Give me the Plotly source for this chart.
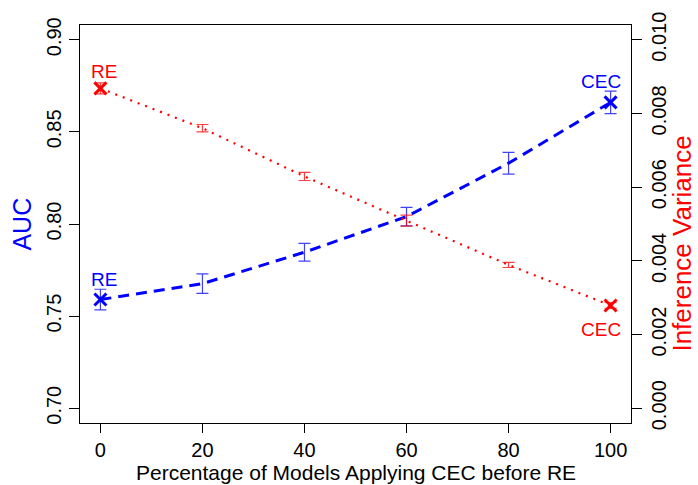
import plotly.graph_objects as go

# ---- data ----
pct = [0, 20, 40, 60, 80, 100]
auc = [0.759, 0.7676, 0.7847, 0.804, 0.833, 0.866]
auc_err = [0.0056, 0.0053, 0.0048, 0.0050, 0.0059, 0.0061]
var = [0.00868, 0.0076, 0.00629, 0.00509, 0.00389, 0.00279]
var_err = [0.00015, 0.00010, 0.00011, 0.00015, 0.00007, 0.00008]
x_ticks = [0, 20, 40, 60, 80, 100]
auc_ticks = [0.70, 0.75, 0.80, 0.85, 0.90]
var_ticks = [0.000, 0.002, 0.004, 0.006, 0.008, 0.010]
end_labels = ["RE", "CEC"]

BLUE = "#0000FF"
RED = "#FF0000"
FONT = "Liberation Sans, Arial, sans-serif"

fig = go.Figure()

# AUC (left axis)
fig.add_trace(go.Scatter(
    x=pct, y=auc, mode="lines", yaxis="y",
    line=dict(color=BLUE, width=3, dash="11px,7px"),
    error_y=dict(type="data", array=auc_err, visible=True,
                 color="rgba(0,0,255,0.75)", thickness=1.2, width=6),
    showlegend=False, hoverinfo="skip"))
fig.add_trace(go.Scatter(
    x=[pct[0], pct[-1]], y=[auc[0], auc[-1]], mode="markers", yaxis="y",
    marker=dict(symbol="x-thin", size=12, line=dict(color=BLUE, width=3)),
    showlegend=False, hoverinfo="skip"))

# Inference variance (right axis)
fig.add_trace(go.Scatter(
    x=pct, y=var, mode="lines", yaxis="y2",
    line=dict(color=RED, width=2.2, dash="2px,6px"),
    error_y=dict(type="data", array=var_err, visible=True,
                 color="rgba(255,0,0,0.75)", thickness=1.2, width=6),
    showlegend=False, hoverinfo="skip"))
fig.add_trace(go.Scatter(
    x=[pct[0], pct[-1]], y=[var[0], var[-1]], mode="markers", yaxis="y2",
    marker=dict(symbol="x-thin", size=12, line=dict(color=RED, width=3)),
    showlegend=False, hoverinfo="skip"))

ann = []
lab = dict(showarrow=False, xanchor="center", yanchor="middle")
# end labels
ann.append(dict(x=pct[0], y=auc[0], xref="x", yref="y", text=end_labels[0],
                xshift=4, yshift=20,
                font=dict(color=BLUE, size=19, family=FONT), **lab))
ann.append(dict(x=pct[-1], y=auc[-1], xref="x", yref="y", text=end_labels[1],
                xshift=-10, yshift=21,
                font=dict(color=BLUE, size=19, family=FONT), **lab))
ann.append(dict(x=pct[0], y=var[0], xref="x", yref="y2", text=end_labels[0],
                xshift=4, yshift=17,
                font=dict(color=RED, size=19, family=FONT), **lab))
ann.append(dict(x=pct[-1], y=var[-1], xref="x", yref="y2", text=end_labels[1],
                xshift=-10, yshift=-24,
                font=dict(color=RED, size=19, family=FONT), **lab))
# axis titles
ann.append(dict(x=-0.106, y=0.5, xref="paper", yref="paper", text="AUC",
                textangle=-90, font=dict(color=BLUE, size=25, family=FONT), **lab))
ann.append(dict(x=1.092, y=0.45, xref="paper", yref="paper",
                text="Inference Variance", textangle=-90,
                font=dict(color=RED, size=26, family=FONT), **lab))
ann.append(dict(x=0.5, y=-0.125, xref="paper", yref="paper",
                text="Percentage of Models Applying CEC before RE",
                font=dict(color="black", size=21, family=FONT), **lab))

fig.update_layout(
    width=698, height=485,
    margin=dict(l=80, r=67, t=18, b=62),
    paper_bgcolor="white", plot_bgcolor="white",
    font=dict(family=FONT, color="black", size=19),
    xaxis=dict(range=[-4, 104], tickvals=x_ticks, ticks="outside", ticklen=9,
               tickwidth=1, tickcolor="black", showgrid=False, zeroline=False,
               showline=True, linecolor="black", linewidth=1, mirror=True,
               tickfont=dict(size=20)),
    yaxis=dict(range=[0.692, 0.908], tickvals=auc_ticks, tickformat=".2f",
               ticks="outside", ticklen=10, tickwidth=1, tickcolor="black",
               tickangle=-90, showgrid=False, zeroline=False,
               showline=True, linecolor="black", linewidth=1,
               tickfont=dict(size=20)),
    yaxis2=dict(range=[-0.0004, 0.0104], tickvals=var_ticks, tickformat=".3f",
                overlaying="y", side="right", ticks="outside", ticklen=10,
                tickwidth=1, tickcolor="black", tickangle=-90, showgrid=False,
                zeroline=False, showline=True, linecolor="black", linewidth=1,
                tickfont=dict(size=20)),
    annotations=ann,
)

fig.write_html("out.html")
